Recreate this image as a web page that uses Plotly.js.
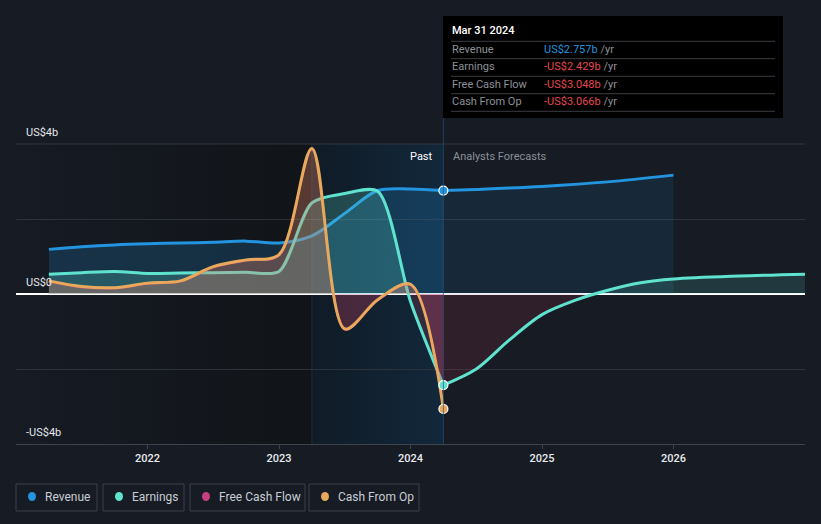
<!DOCTYPE html>
<html>
<head>
<meta charset="utf-8">
<script src="https://cdn.plot.ly/plotly-3.0.1.min.js"></script>
<style>
  html, body { margin: 0; padding: 0; background: #161b24; }
  #chart { width: 821px; height: 524px; }
</style>
</head>
<body>
<div id="chart"></div>
<script>
// ---- data (US$ billions, decimal years) ----
const pastX = [2021.25, 2021.5, 2021.75, 2022.0, 2022.25, 2022.5, 2022.75, 2023.0, 2023.25, 2023.5, 2023.75, 2024.0, 2024.25];
const revenuePast = [1.19, 1.26, 1.31, 1.34, 1.36, 1.38, 1.41, 1.36, 1.55, 2.15, 2.76, 2.80, 2.757];
const earningsPast = [0.53, 0.57, 0.60, 0.55, 0.56, 0.57, 0.58, 0.60, 2.43, 2.68, 2.74, -0.20, -2.429];
const fcfPast = [0.33, 0.18, 0.15, 0.27, 0.33, 0.71, 0.89, 1.03, 3.86, -0.95, -0.17, 0.24, -3.048];
const cfoPast = [0.35, 0.20, 0.17, 0.29, 0.35, 0.73, 0.91, 1.05, 3.88, -0.93, -0.15, 0.26, -3.066];

const revForecastX = [2024.25, 2024.5, 2025.0, 2025.5, 2026.0];
const revenueForecast = [2.757, 2.79, 2.87, 2.99, 3.17];
const earnForecastX = [2024.25, 2024.5, 2024.75, 2025.0, 2025.25, 2025.5, 2025.75, 2026.0, 2026.5, 2027.0];
const earningsForecast = [-2.429, -2.0, -1.23, -0.55, -0.17, 0.10, 0.30, 0.40, 0.48, 0.53];

const tickYears = [2022, 2023, 2024, 2025, 2026];
const tickLabels = ['2022', '2023', '2024', '2025', '2026'];
const yLabels = [{v: 4, t: 'US$4b'}, {v: 0, t: 'US$0'}, {v: -4, t: '-US$4b'}];

const tipDate = 'Mar 31 2024';
const tipRows = [
  {name: 'Revenue', value: 'US$2.757b', color: '#2394df'},
  {name: 'Earnings', value: '-US$2.429b', color: '#e5484d'},
  {name: 'Free Cash Flow', value: '-US$3.048b', color: '#e5484d'},
  {name: 'Cash From Op', value: '-US$3.066b', color: '#e5484d'}
];
const legendItems = [
  {name: 'Revenue', color: '#2394df'},
  {name: 'Earnings', color: '#5fe3cf'},
  {name: 'Free Cash Flow', color: '#c4407f'},
  {name: 'Cash From Op', color: '#e9a95c'}
];

// ---- colors ----
const C_REV = '#2394df', C_EARN = '#5fe3cf', C_FCF = '#c4407f', C_CFO = '#e9a95c';
const BG = '#161b24';

// ---- layout geometry (pixels) ----
const W = 821, H = 524, L = 16, R = 805, T = 144, B = 444;
const X0 = 2021.0, X1 = 2027.0;
const px = x => (x - L) / (R - L);
const py = y => (B - y) / (B - T);
const xpix = yr => L + (yr - X0) / (X1 - X0) * (R - L);

function gradSvg(c0, c1) {
  const svg = '<svg xmlns="http://www.w3.org/2000/svg" width="100" height="100" preserveAspectRatio="none">' +
    '<defs><linearGradient id="g" x1="0" x2="1" y1="0" y2="0">' +
    '<stop offset="0" stop-color="' + c0 + '"/><stop offset="1" stop-color="' + c1 + '"/>' +
    '</linearGradient></defs><rect width="100" height="100" fill="url(#g)"/></svg>';
  return 'data:image/svg+xml;base64,' + btoa(svg);
}

const splitFill = (posColor, negColor) => ({
  type: 'vertical', start: -4, stop: 4,
  colorscale: [[0, negColor], [0.5, negColor], [0.5, posColor], [1, posColor]]
});

const lineStyle = (c, w, s) => ({color: c, width: w, shape: 'spline', smoothing: s === undefined ? 0.9 : s});

const traces = [
  // revenue
  {x: pastX, y: revenuePast, type: 'scatter', mode: 'lines', line: lineStyle(C_REV, 3),
   fill: 'tozeroy', fillcolor: 'rgba(35,148,223,0.2)'},
  {x: revForecastX, y: revenueForecast, type: 'scatter', mode: 'lines', line: lineStyle(C_REV, 3),
   fill: 'tozeroy', fillcolor: 'rgba(35,148,223,0.11)'},
  // earnings
  {x: pastX, y: earningsPast, type: 'scatter', mode: 'lines', line: lineStyle(C_EARN, 3, 0.75),
   fill: 'tozeroy', fillcolor: 'rgba(95,227,207,0.22)',
   fillgradient: splitFill('rgba(95,227,207,0.22)', 'rgba(200,60,90,0.18)')},
  {x: earnForecastX, y: earningsForecast, type: 'scatter', mode: 'lines', line: lineStyle(C_EARN, 3),
   fill: 'tozeroy', fillcolor: 'rgba(95,227,207,0.14)',
   fillgradient: splitFill('rgba(95,227,207,0.15)', 'rgba(200,55,80,0.14)')},
  // free cash flow
  {x: pastX, y: fcfPast, type: 'scatter', mode: 'lines', line: lineStyle(C_FCF, 2),
   fill: 'tozeroy', fillcolor: 'rgba(196,64,127,0.16)'},
  // cash from op
  {x: pastX, y: cfoPast, type: 'scatter', mode: 'lines', line: lineStyle(C_CFO, 3),
   fill: 'tozeroy', fillcolor: 'rgba(233,169,92,0.2)',
   fillgradient: splitFill('rgba(233,169,92,0.22)', 'rgba(190,60,80,0.18)')},
  // end-point markers
  {x: [pastX[pastX.length - 1]], y: [revenuePast[revenuePast.length - 1]], type: 'scatter', mode: 'markers',
   marker: {color: C_REV, size: 9, line: {color: '#ffffff', width: 1.2}}},
  {x: [pastX[pastX.length - 1]], y: [earningsPast[earningsPast.length - 1]], type: 'scatter', mode: 'markers',
   marker: {color: C_EARN, size: 9, line: {color: '#ffffff', width: 1.2}}},
  {x: [pastX[pastX.length - 1]], y: [cfoPast[cfoPast.length - 1]], type: 'scatter', mode: 'markers',
   marker: {color: C_CFO, size: 9, line: {color: '#ffffff', width: 1.2}}}
];

const nowX = pastX[pastX.length - 1];
const bandStart = 2023.25;

const shapes = [
  // top gridline (4b)
  {type: 'line', xref: 'paper', yref: 'paper', x0: 0, x1: 1, y0: 1, y1: 1,
   line: {color: '#2f353f', width: 1}, layer: 'below'},
  // past band edges
  {type: 'line', xref: 'paper', yref: 'paper', x0: px(xpix(bandStart)), x1: px(xpix(bandStart)), y0: 0, y1: 1,
   line: {color: 'rgba(60,80,100,0.35)', width: 1}, layer: 'below'},
  {type: 'line', xref: 'paper', yref: 'paper', x0: px(xpix(nowX)), x1: px(xpix(nowX)), y0: 0, y1: py(118),
   line: {color: 'rgba(40,80,120,0.7)', width: 1}, layer: 'above'},
  // tooltip box
  {type: 'rect', xref: 'paper', yref: 'paper', x0: px(443), x1: px(783), y0: py(118), y1: py(16),
   fillcolor: '#000000', line: {width: 0}, layer: 'above'}
];
[41.3, 58.7, 76.3, 93.7, 111.3].forEach(yy => shapes.push({
  type: 'line', xref: 'paper', yref: 'paper', x0: px(451), x1: px(775), y0: py(yy), y1: py(yy),
  line: {color: '#3a3d42', width: 1}, layer: 'above'}));

// legend boxes
const legendBoxes = [[16, 97], [103, 184], [190, 305], [309, 419]];
legendItems.forEach((it, i) => {
  const [a, b] = legendBoxes[i];
  shapes.push({type: 'rect', xref: 'paper', yref: 'paper', x0: px(a), x1: px(b), y0: py(511), y1: py(484),
    fillcolor: 'rgba(0,0,0,0)', line: {color: '#3a404b', width: 1}});
  shapes.push({type: 'circle', xref: 'paper', yref: 'paper', x0: px(a + 12), x1: px(a + 20), y0: py(501), y1: py(492),
    fillcolor: it.color, line: {width: 0}});
});

const annotations = [];
yLabels.forEach(l => annotations.push({
  xref: 'paper', yref: 'paper', x: px(24), y: py(294 - l.v * 37.5 - 12), xanchor: 'left', yanchor: 'middle',
  text: l.t, showarrow: false, font: {family: 'Roboto, sans-serif', size: 11, color: '#e4e6ea'}
}));
annotations.push({xref: 'paper', yref: 'paper', x: px(435), y: py(156), xanchor: 'right', yanchor: 'middle',
  text: 'Past', showarrow: false, font: {family: 'Roboto, sans-serif', size: 11, color: '#ffffff'}});
annotations.push({xref: 'paper', yref: 'paper', x: px(451), y: py(156), xanchor: 'left', yanchor: 'middle',
  text: 'Analysts Forecasts', showarrow: false, font: {family: 'Roboto, sans-serif', size: 11, color: '#8b9199'}});
annotations.push({xref: 'paper', yref: 'paper', x: px(450), y: py(31), xanchor: 'left', yanchor: 'middle',
  text: tipDate, showarrow: false, font: {family: 'Roboto, sans-serif', size: 11, color: '#ffffff', weight: 500}});
const rowY = [49.3, 66.7, 84.3, 101.7];
tipRows.forEach((r, i) => {
  annotations.push({xref: 'paper', yref: 'paper', x: px(450), y: py(rowY[i]), xanchor: 'left', yanchor: 'middle',
    text: r.name, showarrow: false, font: {family: 'Roboto, sans-serif', size: 11, color: '#8d9197'}});
  annotations.push({xref: 'paper', yref: 'paper', x: px(542), y: py(rowY[i]), xanchor: 'left', yanchor: 'middle',
    text: '<span style="color:' + r.color + '">' + r.value + '</span> /yr', showarrow: false,
    font: {family: 'Roboto, sans-serif', size: 11, color: '#8d9197'}});
});
legendItems.forEach((it, i) => {
  const [a] = legendBoxes[i];
  annotations.push({xref: 'paper', yref: 'paper', x: px(a + 27), y: py(497), xanchor: 'left', yanchor: 'middle',
    text: it.name, showarrow: false, font: {family: 'Roboto, sans-serif', size: 12, color: '#c9cdd3'}});
});

const layout = {
  width: W, height: H,
  margin: {l: L, r: W - R, t: T, b: H - B, pad: 0},
  paper_bgcolor: BG, plot_bgcolor: 'rgba(0,0,0,0)',
  showlegend: false,
  xaxis: {
    range: [X0, X1], tickvals: tickYears, ticktext: tickLabels,
    showgrid: false, zeroline: false, showline: true, linecolor: '#3d434d', linewidth: 1,
    ticks: 'outside', ticklen: 4, tickcolor: '#3d434d',
    tickfont: {family: 'Roboto, sans-serif', size: 11, color: '#e8eaed', weight: 500}, fixedrange: true
  },
  yaxis: {
    range: [-4, 4], tickvals: [-2, 2], showticklabels: false,
    showgrid: true, gridcolor: '#2c323c', gridwidth: 1,
    zeroline: true, zerolinecolor: '#ffffff', zerolinewidth: 1.3, fixedrange: true
  },
  images: [
    {source: gradSvg('#161b24', '#111418'), xref: 'paper', yref: 'paper', x: 0, y: 1,
     sizex: px(xpix(bandStart)), sizey: 1, xanchor: 'left', yanchor: 'top', sizing: 'stretch', layer: 'below'},
    {source: gradSvg('#101b26', '#12283b'), xref: 'paper', yref: 'paper', x: px(xpix(bandStart)), y: 1,
     sizex: px(xpix(nowX)) - px(xpix(bandStart)), sizey: 1, xanchor: 'left', yanchor: 'top', sizing: 'stretch', layer: 'below'}
  ],
  shapes: shapes,
  annotations: annotations,
  hovermode: false
};

Plotly.newPlot('chart', traces, layout, {displayModeBar: false, staticPlot: true});
</script>
</body>
</html>
